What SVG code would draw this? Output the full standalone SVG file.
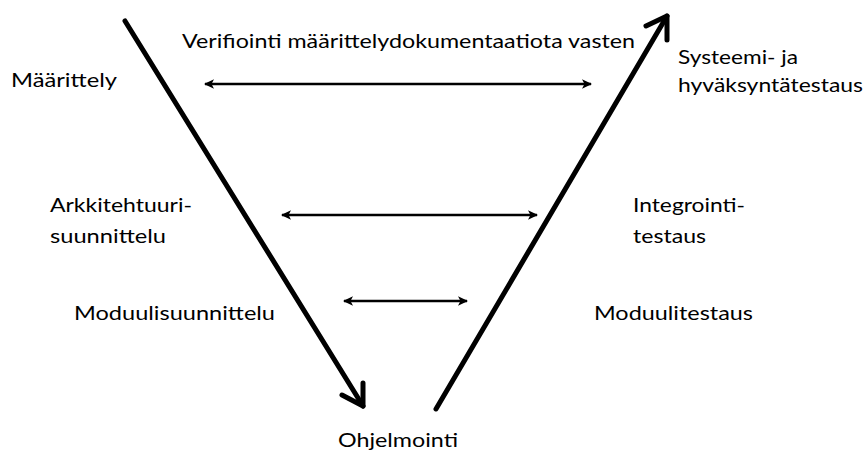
<svg xmlns="http://www.w3.org/2000/svg" width="864" height="454" viewBox="0 0 864 454">
  <style>
    .lbl { font-family: Lato, "Open Sans", "Liberation Sans", sans-serif; font-size: 20px; fill: #000; }
    .flow { fill: none; stroke: #000; stroke-width: 5; stroke-linecap: round; stroke-linejoin: round; }
    .link { fill: none; stroke: #000; stroke-width: 2.5; }
  </style>
  <defs>
    <marker id="head" viewBox="-10 -6 12 12" refX="0" refY="0" markerWidth="12" markerHeight="12" markerUnits="userSpaceOnUse" orient="auto-start-reverse">
      <path d="M1,0 L-9,-4.8 L-6.5,0 L-9,4.8 Z" fill="#000"/>
    </marker>
  </defs>

  <rect width="864" height="454" fill="#fff"/>

  <!-- V-model flow: design goes down, testing comes back up -->
  <g id="flows">
    <path class="flow" d="M125,21 L363,406"/>
    <path class="flow" d="M342,395 L363,406 L363,383"/>
    <path class="flow" d="M436,409 L667,16"/>
    <path class="flow" d="M646,26 L667,16 L667,40"/>
  </g>

  <!-- verification links between matching levels -->
  <g id="connectors">
    <line class="link" x1="205" y1="84" x2="591" y2="84" marker-start="url(#head)" marker-end="url(#head)"/>
    <line class="link" x1="282" y1="215" x2="537" y2="215" marker-start="url(#head)" marker-end="url(#head)"/>
    <line class="link" x1="344" y1="301" x2="467" y2="301" marker-start="url(#head)" marker-end="url(#head)"/>
  </g>

  <g id="verification">
    <text class="lbl" x="182" y="48" textLength="453" lengthAdjust="spacingAndGlyphs">Verifiointi määrittelydokumentaatiota vasten</text>
  </g>
  <g id="maarittely">
    <text class="lbl" x="11" y="87" textLength="106" lengthAdjust="spacingAndGlyphs">Määrittely</text>
  </g>
  <g id="systeemitestaus">
    <text class="lbl" x="678" y="64" textLength="120" lengthAdjust="spacingAndGlyphs">Systeemi- ja</text>
    <text class="lbl" x="678" y="92" textLength="185" lengthAdjust="spacingAndGlyphs">hyväksyntätestaus</text>
  </g>
  <g id="arkkitehtuurisuunnittelu">
    <text class="lbl" x="50" y="212" textLength="142" lengthAdjust="spacingAndGlyphs">Arkkitehtuuri-</text>
    <text class="lbl" x="50" y="243" textLength="116" lengthAdjust="spacingAndGlyphs">suunnittelu</text>
  </g>
  <g id="integrointitestaus">
    <text class="lbl" x="633" y="212" textLength="112" lengthAdjust="spacingAndGlyphs">Integrointi-</text>
    <text class="lbl" x="633" y="243" textLength="73" lengthAdjust="spacingAndGlyphs">testaus</text>
  </g>
  <g id="moduulisuunnittelu">
    <text class="lbl" x="74" y="320" textLength="201" lengthAdjust="spacingAndGlyphs">Moduulisuunnittelu</text>
  </g>
  <g id="moduulitestaus">
    <text class="lbl" x="594" y="320" textLength="159" lengthAdjust="spacingAndGlyphs">Moduulitestaus</text>
  </g>
  <g id="ohjelmointi">
    <text class="lbl" x="338" y="447" textLength="120" lengthAdjust="spacingAndGlyphs">Ohjelmointi</text>
  </g>
</svg>
